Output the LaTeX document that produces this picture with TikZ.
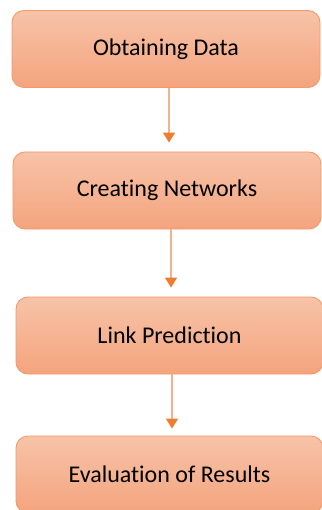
\documentclass[tikz,border=0pt]{standalone}
\usepackage{fontspec}
\setmainfont[Ligatures=NoCommon]{Carlito}
\usetikzlibrary{arrows.meta}
\definecolor{boxtop}{HTML}{F7C3A8}
\definecolor{boxbot}{HTML}{F4A47E}
\definecolor{boxline}{HTML}{F29A68}
\definecolor{connline}{HTML}{F5B08C}
\definecolor{tipcol}{HTML}{ED7D31}
\tikzset{
  stepbox/.style={draw=boxline, line width=0.9pt, rounded corners=12pt,
    top color=boxtop, bottom color=boxbot, minimum width=308pt,
    minimum height=77pt, inner sep=0pt, font=\fontsize{24}{28}\selectfont, text=black},
  conn/.style={draw=connline, line width=1.5pt,
    -{Triangle[width=12pt,length=10pt,color=tipcol,fill=tipcol]}}
}
\begin{document}
\begin{tikzpicture}[x=1pt,y=-1pt]
\useasboundingbox (0,0) rectangle (321,510);
\node[stepbox] (b1) at (166,49) {Obtaining Data};
\node[stepbox] (b2) at (167,190.5) {Creating Networks};
\node[stepbox, minimum width=307pt] (b3) at (169.5,335.5) {Link Prediction};
\node[stepbox, minimum width=307pt] (b4) at (169.5,474.5) {Evaluation of Results};
\draw[conn, shorten >=9pt] ([xshift=3pt]b1.south) -- ([xshift=3pt]b1.south |- b2.north);
\draw[conn, shorten >=9pt] ([xshift=4pt]b2.south) -- ([xshift=4pt]b2.south |- b3.north);
\draw[conn, shorten >=7pt] ([xshift=2.5pt]b3.south) -- ([xshift=2.5pt]b3.south |- b4.north);
\end{tikzpicture}
\end{document}
